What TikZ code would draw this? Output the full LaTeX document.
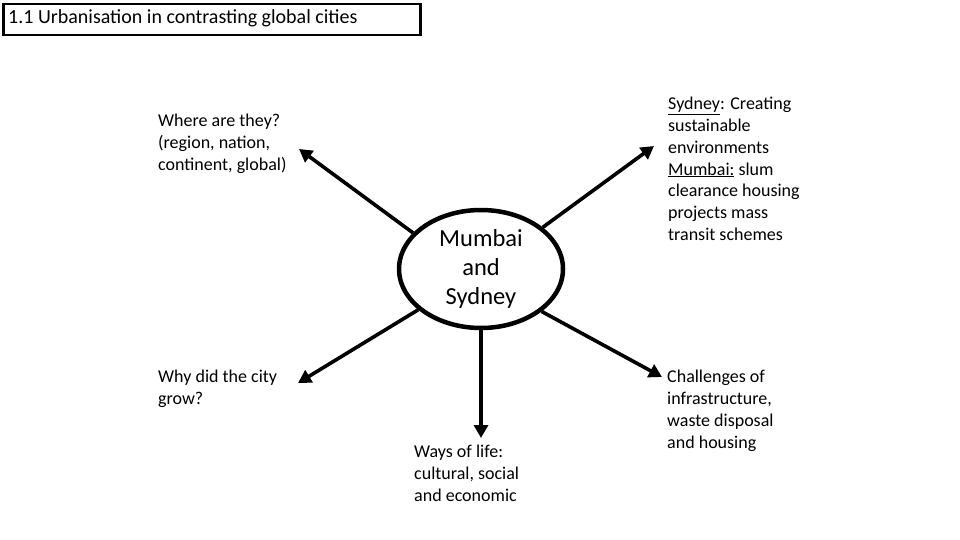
\documentclass[tikz,border=0pt]{standalone}
\usepackage{fontspec}
\setmainfont{Carlito}
\usetikzlibrary{arrows.meta,shapes.geometric}
\begin{document}
\begin{tikzpicture}[x=1pt,y=-1pt,
  conn/.style={line width=3.6pt,-{Triangle[length=13pt,width=14pt]}},
  lbl/.style={anchor=north west,inner sep=0pt,font=\fontsize{18}{21.8}\selectfont,align=left}]
\useasboundingbox (0,0) rectangle (960,540);
\node[draw,line width=2.5pt,minimum width=417pt,minimum height=31pt,anchor=north west,inner sep=0pt] (title) at (2,3) {};
\node[anchor=west,inner sep=0pt,font=\fontsize{20}{22}\selectfont] (ttext) at (8,18.5) {1.1 Urbanisation in contrasting global cities};
\node[draw,ellipse,line width=4.5pt,minimum width=164pt,minimum height=118pt,inner sep=0pt,align=center,font=\fontsize{24.5}{29}\selectfont] (c) at (481,269) {Mumbai\\and\\Sydney};
\coordinate (ul) at (299,149);
\coordinate (ur) at (654,146);
\coordinate (ll) at (298,383);
\coordinate (bb) at (481,438);
\coordinate (lr) at (662,377);
\draw[conn] (c.152) -- (ul);
\draw[conn] (c.34) -- (ur);
\draw[conn] (c.213) -- (ll);
\draw[conn] (c.south) -- (bb);
\draw[conn] (c.-35) -- (lr);
\node[lbl] (t1) at (158,114) {Where are they?\\(region, nation,\\continent, global)};
\node[lbl] (t2) at (668,97) {\underline{Sydney}: Creating\\sustainable\\environments\\\underline{Mumbai:} slum\\clearance housing\\projects mass\\transit schemes};
\node[lbl] (t3) at (158,370) {Why did the city\\grow?};
\node[lbl] (t4) at (414,445) {Ways of life:\\cultural, social\\and economic};
\node[lbl] (t5) at (667,370) {Challenges of\\infrastructure,\\waste disposal\\and housing};
\end{tikzpicture}
\end{document}
